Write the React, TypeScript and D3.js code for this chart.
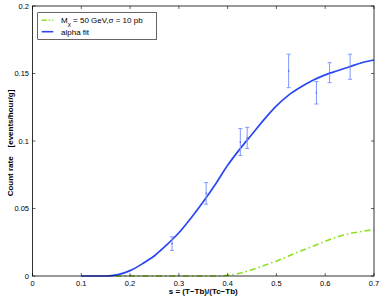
import * as d3 from 'd3';

// alpha fit curve (s, rate)
const fitS = [0.1, 0.15, 0.175, 0.2, 0.225, 0.25, 0.275, 0.3, 0.325, 0.35, 0.375, 0.4, 0.425, 0.45, 0.475, 0.5, 0.525, 0.55, 0.575, 0.6, 0.625, 0.65, 0.675, 0.7];
const fitRate = [0, 0, 0.001, 0.004, 0.009, 0.015, 0.023, 0.032, 0.043, 0.055, 0.068, 0.082, 0.094, 0.105, 0.116, 0.126, 0.134, 0.14, 0.145, 0.149, 0.152, 0.155, 0.158, 0.16];

// WIMP signal curve, M = 50 GeV, sigma = 10 pb
const wimpS = [0.17, 0.25, 0.35, 0.38, 0.4, 0.425, 0.45, 0.475, 0.5, 0.525, 0.55, 0.575, 0.6, 0.625, 0.65, 0.675, 0.7];
const wimpRate = [0, 0, 0, 0, 0.0005, 0.002, 0.0047, 0.0078, 0.011, 0.0148, 0.0186, 0.022, 0.0257, 0.029, 0.0314, 0.033, 0.0344];

// measured points with errors
const dataS = [0.286, 0.356, 0.426, 0.44, 0.525, 0.582, 0.609, 0.651];
const dataRate = [0.024, 0.0612, 0.0992, 0.1023, 0.1519, 0.1357, 0.1506, 0.155];
const dataErr = [0.005, 0.008, 0.01, 0.0078, 0.0124, 0.0083, 0.0074, 0.0093];

const xTicks = [0, 0.1, 0.2, 0.3, 0.4, 0.5, 0.6, 0.7];
const yTicks = [0, 0.05, 0.1, 0.15, 0.2];

const W = 382;
const H = 298;
const margin = { top: 6, right: 8, bottom: 22, left: 32.5 };

export default function App() {
  const x = d3.scaleLinear().domain([0, 0.7]).range([margin.left, W - margin.right]);
  const y = d3.scaleLinear().domain([0, 0.2]).range([H - margin.bottom, margin.top]);

  const curve = d3.line<[number, number]>()
    .x(d => x(d[0]))
    .y(d => y(d[1]))
    .curve(d3.curveMonotoneX);

  const fitPath = curve(fitS.map((s, i) => [s, fitRate[i]] as [number, number]));
  const wimpPath = curve(wimpS.map((s, i) => [s, wimpRate[i]] as [number, number]));

  const [x0, x1] = x.range();
  const [y0, y1] = y.range();
  const font = "'Liberation Sans', Arial, sans-serif";

  return (
    <div style={{ position: 'absolute', left: 0, top: 0 }}>
      <svg width={W} height={H} style={{ display: 'block', background: '#fff' }} fontFamily={font}>
        {/* curves */}
        <path d={wimpPath ?? ''} fill="none" stroke="#8ce020" strokeWidth={1.6} strokeDasharray="6,3,1.5,3" />
        <path d={fitPath ?? ''} fill="none" stroke="#2a46f5" strokeWidth={1.7} />

        {/* error bars */}
        {dataS.map((s, i) => {
          const cx = x(s);
          const top = y(dataRate[i] + dataErr[i]);
          const bot = y(dataRate[i] - dataErr[i]);
          return (
            <g key={i} stroke="#7f97ff" strokeWidth={1}>
              <line x1={cx} x2={cx} y1={top} y2={bot} />
              <line x1={cx - 2} x2={cx + 2} y1={top} y2={top} />
              <line x1={cx - 2} x2={cx + 2} y1={bot} y2={bot} />
              <rect x={cx - 0.6} y={y(dataRate[i]) - 0.6} width={1.2} height={1.2} fill="#3050f0" stroke="none" />
            </g>
          );
        })}

        {/* axes box */}
        <rect x={x0} y={y1} width={x1 - x0} height={y0 - y1} fill="none" stroke="#000" strokeWidth={0.8} />
        {xTicks.map(t => (
          <g key={'x' + t}>
            <line x1={x(t)} x2={x(t)} y1={y0} y2={y0 - 3} stroke="#000" strokeWidth={0.6} />
            <line x1={x(t)} x2={x(t)} y1={y1} y2={y1 + 3} stroke="#000" strokeWidth={0.6} />
            <text x={x(t)} y={y0 + 10} fontSize={7.5} textAnchor="middle" fill="#000">{t}</text>
          </g>
        ))}
        {yTicks.map(t => (
          <g key={'y' + t}>
            <line x1={x0} x2={x0 + 3} y1={y(t)} y2={y(t)} stroke="#000" strokeWidth={0.6} />
            <line x1={x1} x2={x1 - 3} y1={y(t)} y2={y(t)} stroke="#000" strokeWidth={0.6} />
            <text x={x0 - 3.5} y={y(t) + 2.7} fontSize={7.5} textAnchor="end" fill="#000">{t}</text>
          </g>
        ))}

        {/* axis labels */}
        <text x={(x0 + x1) / 2} y={H - 4} fontSize={8} fontWeight="bold" textAnchor="middle">
          s = (T−Tb)/(Tc−Tb)
        </text>
        <text transform={`translate(12.5,${(y0 + y1) / 2 + 2}) rotate(-90)`} fontSize={8} fontWeight="bold" textAnchor="middle" xmlSpace="preserve">
          Count rate    [events/hour/g]
        </text>

        {/* legend */}
        <rect x={37.7} y={12.7} width={119} height={26.6} fill="#fff" stroke="#000" strokeWidth={0.6} />
        <line x1={41.7} x2={53.3} y1={20.2} y2={20.2} stroke="#8ce020" strokeWidth={1.6} strokeDasharray="5,2,1.5,2" />
        <text x={61} y={23} fontSize={8}>
          M<tspan fontSize={6} dy={3}>χ</tspan><tspan dy={-3}> = 50 GeV,σ = 10 pb</tspan>
        </text>
        <line x1={41.7} x2={53.3} y1={31.7} y2={31.7} stroke="#2a46f5" strokeWidth={1.6} />
        <text x={61} y={34.5} fontSize={8}>alpha fit</text>
      </svg>
    </div>
  );
}
